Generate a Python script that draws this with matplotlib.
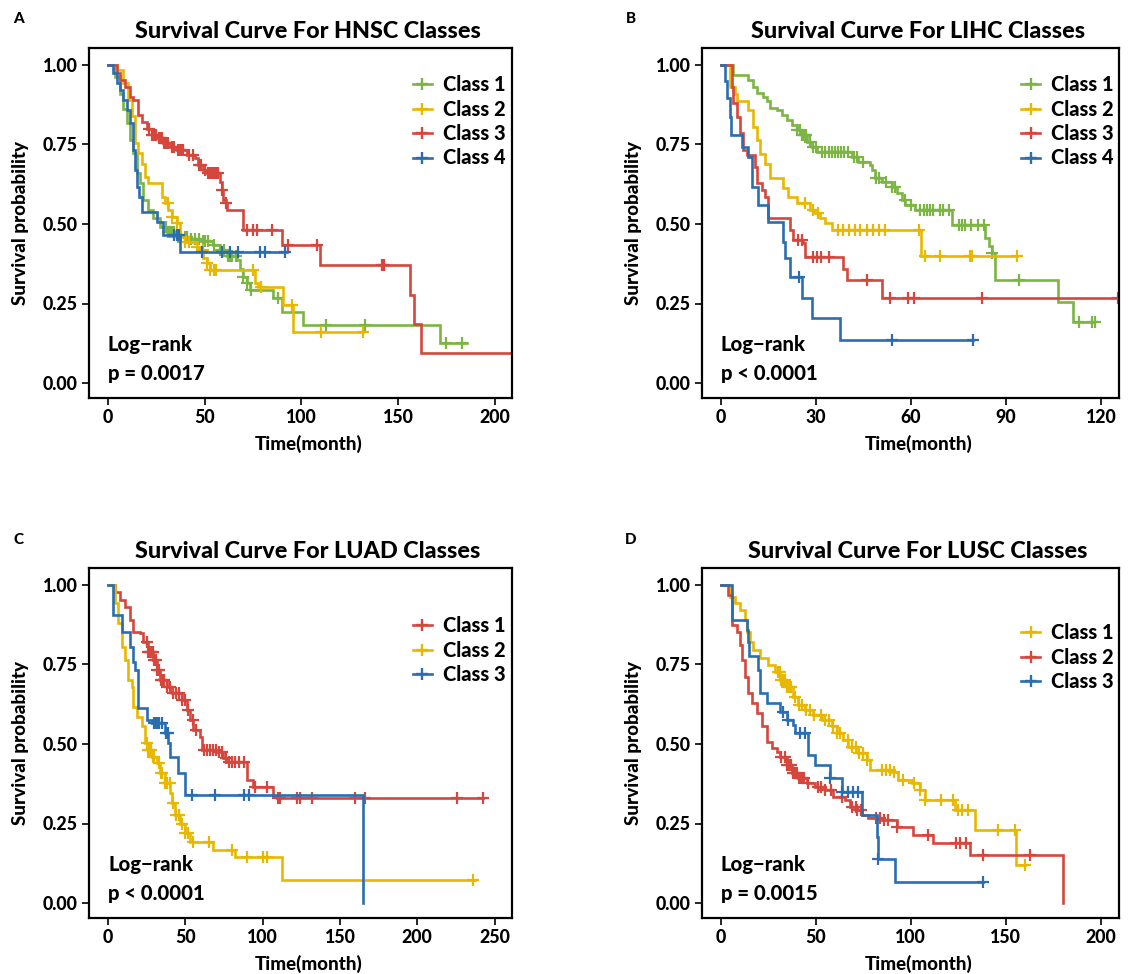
import numpy as np
import matplotlib.pyplot as plt
from matplotlib.lines import Line2D

plt.rcParams['font.family'] = ['Lato', 'DejaVu Sans']
plt.rcParams['font.weight'] = 'black'

GREEN = '#7CB544'
YELLOW = '#E8B800'
RED = '#D5463C'
BLUE = '#2A6DB0'
FW = 'black'

# ---- A: HNSC ----
hnsc_c1_t = [0, 3.6, 6.2, 8, 9.7, 11.4, 13.1, 14.8, 16.6, 18.3, 20.9, 23.4, 26.9, 30.3, 35.5, 42, 48,
             54.5, 58, 61.4, 66.5, 68.3, 70, 71.7, 73.4, 85.5, 90, 101, 171.7]
hnsc_c1_s = [1, 0.963, 0.91, 0.86, 0.817, 0.764, 0.722, 0.66, 0.628, 0.575, 0.544, 0.518, 0.49, 0.476, 0.46,
             0.452, 0.445, 0.434, 0.418, 0.40, 0.387, 0.36, 0.334, 0.313, 0.292, 0.266, 0.224, 0.182, 0.125]
hnsc_c1_end = 185.5
hnsc_c1_cens = [30, 31, 32, 33, 34, 36, 40, 41, 43, 45, 47, 49, 50, 52, 55, 58, 60, 62, 63, 64, 66,
                70, 72, 74, 88, 113, 133, 175, 183]

hnsc_c2_t = [0, 4.5, 8, 10.5, 12.2, 14, 15.7, 17.4, 19.1, 20.9, 27.8, 29.5, 31.2, 32.9, 35.5, 37.2, 39.8,
             45.9, 47.6, 49.3, 51, 52.8, 76, 77.8, 90.7, 95.9]
hnsc_c2_s = [1, 0.984, 0.942, 0.89, 0.838, 0.754, 0.722, 0.69, 0.649, 0.628, 0.586, 0.565, 0.544, 0.523,
             0.502, 0.46, 0.444, 0.429, 0.418, 0.392, 0.376, 0.355, 0.313, 0.303, 0.245, 0.161]
hnsc_c2_end = 132
hnsc_c2_cens = [31, 33, 35.5, 38, 40, 42, 46, 49, 51, 53, 55, 56, 75, 79, 95, 110, 132]

hnsc_c3_t = [0, 4.5, 6.2, 8.8, 11.4, 13.1, 15.7, 17.4, 20, 22.6, 26, 28.6, 32, 35.5, 40.7, 45, 46.7, 49.3,
             51, 58, 58.8, 59.7, 61, 61.4, 70, 89.8, 109.7, 156.2, 158.3, 161.7]
hnsc_c3_s = [1, 0.974, 0.953, 0.93, 0.90, 0.89, 0.843, 0.82, 0.80, 0.78, 0.77, 0.754, 0.743, 0.733, 0.717,
             0.707, 0.686, 0.67, 0.66, 0.633, 0.607, 0.575, 0.565, 0.544, 0.481, 0.434, 0.371, 0.277,
             0.186, 0.093]
hnsc_c3_end = 210
hnsc_c3_cens = [21, 23, 24, 25, 26.5, 27, 28, 29, 30, 31, 33, 34, 36, 37, 38, 39, 42, 44, 47, 48, 50, 52,
                53, 54, 55, 56, 57, 59, 61, 72, 75, 77, 85, 93, 108, 142, 143]

hnsc_c4_t = [0, 2.8, 4.5, 6.2, 8, 9.7, 11.4, 13.1, 14, 14.8, 16, 17.4, 25.2, 28.6, 37.2]
hnsc_c4_s = [1, 0.974, 0.942, 0.921, 0.89, 0.858, 0.817, 0.733, 0.67, 0.617, 0.586, 0.539, 0.507, 0.465,
             0.413]
hnsc_c4_end = 92.4
hnsc_c4_cens = [34, 35.5, 36.5, 48.5, 59, 63, 67.5, 78.5, 81, 91.5]

# ---- B: LIHC ----
lihc_c1_t = [0, 4, 8.7, 10.3, 11.3, 13.4, 14.5, 15.6, 17.7, 19.2, 20.8, 22.4, 24, 25.5, 27.1, 28.7, 30.3,
             41.3, 43.4, 47.1, 47.6, 48.7, 50.8, 53.9, 55.5, 57.1, 58.1, 61.3, 72.9, 83.5, 84.5, 85.5,
             86.5, 106.5, 111.2]
lihc_c1_s = [1, 0.968, 0.953, 0.932, 0.911, 0.90, 0.885, 0.864, 0.858, 0.843, 0.827, 0.811, 0.796, 0.78,
             0.759, 0.743, 0.727, 0.712, 0.696, 0.686, 0.67, 0.644, 0.633, 0.617, 0.596, 0.575, 0.56,
             0.544, 0.497, 0.455, 0.43, 0.41, 0.324, 0.256, 0.193]
lihc_c1_end = 117.5
lihc_c1_cens = [24, 25, 25.5, 26, 26.5, 27, 28, 29, 30, 32, 33, 34, 35, 36, 37, 38, 39, 40, 42, 43, 45,
                49, 50, 52, 54, 55, 58, 60, 63, 64, 65, 66, 67, 69, 70, 72, 75, 76, 77, 79, 81, 83,
                85.5, 94, 113, 117, 118]

lihc_c2_t = [0, 2.9, 4.5, 5, 8.7, 10.3, 11.3, 12.5, 14, 15.6, 19.8, 21.3, 24, 28.2, 29.7, 31.3, 32.9, 35,
             63.2]
lihc_c2_s = [1, 0.932, 0.91, 0.885, 0.858, 0.806, 0.764, 0.72, 0.69, 0.644, 0.612, 0.586, 0.565, 0.544,
             0.534, 0.518, 0.502, 0.481, 0.40]
lihc_c2_end = 93.4
lihc_c2_cens = [26.6, 29, 30.8, 37, 38.5, 40.5, 42.5, 44, 46, 48, 50, 51.7, 62.6, 64.4, 69, 78.7, 79.2,
                93.4]

lihc_c3_t = [0, 3.5, 4, 5, 6.1, 7.1, 8.2, 10.8, 11.3, 12.9, 14, 15, 21.9, 22.9, 26, 26.6, 38.7, 39.7,
             50.8]
lihc_c3_s = [1, 0.93, 0.88, 0.837, 0.785, 0.733, 0.717, 0.68, 0.628, 0.607, 0.586, 0.518, 0.48, 0.45,
             0.439, 0.397, 0.36, 0.324, 0.266]
lihc_c3_end = 125.4
lihc_c3_cens = [24.5, 25.5, 29, 30.5, 31.5, 34, 46, 53.5, 59, 61, 82.5, 125.4]

lihc_c4_t = [0, 1.5, 1.9, 2.9, 3.2, 6.6, 8.7, 9.8, 11.9, 15, 19.8, 20.3, 21.9, 25.5, 28.7, 37.6]
lihc_c4_s = [1, 0.95, 0.895, 0.837, 0.78, 0.743, 0.712, 0.617, 0.56, 0.507, 0.444, 0.392, 0.334, 0.266,
             0.203, 0.135]
lihc_c4_end = 79.7
lihc_c4_cens = [24.8, 54, 79.7]

# ---- C: LUAD ----
luad_c1_t = [0, 4.5, 7.8, 11, 14.2, 16.4, 20.7, 22.9, 26, 29.3, 31.5, 33.6, 37.9, 41.2, 47.6, 50.9, 53,
             55.2, 59.5, 60.6, 70.3, 74.6, 77.8, 89.7, 94, 107, 109.1]
luad_c1_s = [1, 0.979, 0.953, 0.932, 0.89, 0.853, 0.848, 0.82, 0.79, 0.764, 0.733, 0.70, 0.68, 0.66, 0.638,
             0.607, 0.575, 0.544, 0.523, 0.481, 0.476, 0.455, 0.444, 0.387, 0.366, 0.334, 0.329]
luad_c1_end = 242.8
luad_c1_cens = [25, 26, 27, 28, 29, 30, 31, 32, 33, 34, 35, 36, 38, 40, 42, 44, 46, 48, 50, 52, 55, 57,
                62, 64, 66, 68, 70, 72, 74, 76, 78, 80, 82, 85, 88, 95, 103, 110, 111, 122, 124, 131.7,
                159.8, 166, 225.5, 242.8]

luad_c2_t = [0, 4.5, 6.7, 8.8, 11, 13.2, 15.3, 16.4, 18.5, 21.8, 23.9, 26, 28.3, 31.5, 33.6, 36.9, 40.1,
             41.2, 43.3, 46.6, 49.8, 53, 68.1, 82, 112.3]
luad_c2_s = [1, 0.942, 0.88, 0.806, 0.764, 0.70, 0.68, 0.617, 0.586, 0.555, 0.502, 0.481, 0.46, 0.439,
             0.408, 0.376, 0.345, 0.313, 0.277, 0.25, 0.219, 0.193, 0.167, 0.146, 0.072]
luad_c2_end = 237.4
luad_c2_cens = [25, 26, 27, 28, 29, 30, 33, 34, 35, 37, 38, 40, 42, 44, 46, 48, 50, 52, 55, 65, 80,
                89.7, 100.5, 102.6, 236.3]

luad_c3_t = [0, 3, 8.8, 14.2, 16.4, 17.5, 19.6, 25, 28.3, 36.9, 39, 40.1, 45.5, 49.8, 165.2]
luad_c3_s = [1, 0.906, 0.853, 0.806, 0.759, 0.733, 0.612, 0.575, 0.565, 0.534, 0.502, 0.46, 0.408, 0.34,
             0.0]
luad_c3_end = 165.2
luad_c3_cens = [30, 31, 32, 33, 35, 37.5, 38.5, 54, 69, 88, 91]

# ---- D: LUSC ----
lusc_c1_t = [0, 4.9, 7.5, 10.2, 12.8, 13.7, 15.4, 17.2, 20.7, 25.1, 28.6, 31.2, 34.7, 38.2, 40.9, 44.4,
             48.7, 53.1, 58.4, 61, 64.5, 67.2, 72.4, 76.8, 78.6, 90, 93.5, 100.5, 104.9, 107.6, 123.3,
             133.8, 155.5]
lusc_c1_s = [1, 0.963, 0.942, 0.921, 0.89, 0.853, 0.822, 0.796, 0.77, 0.748, 0.727, 0.70, 0.68, 0.649,
             0.623, 0.607, 0.591, 0.575, 0.555, 0.534, 0.513, 0.492, 0.471, 0.45, 0.418, 0.413, 0.387,
             0.376, 0.355, 0.324, 0.292, 0.23, 0.12]
lusc_c1_end = 160
lusc_c1_cens = [30, 31, 32, 33, 34, 35, 36, 37, 39, 41, 43, 45, 47, 49, 53, 55, 57, 59, 61, 63, 67, 69,
                71, 73, 75, 77, 85, 87, 89, 91, 96, 102, 105, 107.6, 116, 122, 125, 127, 130, 146,
                155, 160]

lusc_c2_t = [0, 4, 5.8, 8.4, 10.2, 11, 12.8, 14.5, 16.3, 18.9, 21.6, 24.2, 26.8, 29.4, 31.2, 34.7, 37.4,
             40.9, 45.2, 49.6, 54.9, 59.3, 65.4, 68.1, 71.5, 74.2, 77.8, 84.7, 92.6, 101.4, 111.9,
             131.3, 180.3]
lusc_c2_s = [1, 0.969, 0.874, 0.853, 0.811, 0.764, 0.712, 0.66, 0.628, 0.596, 0.555, 0.507, 0.486, 0.476,
             0.46, 0.434, 0.408, 0.392, 0.376, 0.366, 0.355, 0.334, 0.324, 0.303, 0.292, 0.277, 0.266,
             0.261, 0.24, 0.214, 0.188, 0.151, 0.0]
lusc_c2_end = 180.3
lusc_c2_cens = [32, 34, 35, 36, 37, 38, 39, 40, 41, 42, 43, 44, 46, 51, 53, 55, 58, 64, 69, 71, 72, 74,
                82, 84, 86, 88, 92.6, 109, 124, 126, 129, 138, 163]

lusc_c3_t = [0, 5.8, 13.7, 14.5, 15, 19.8, 20.7, 24.2, 31.2, 34.7, 38.2, 39.1, 46.1, 49.6, 57.5, 63.7,
             74.2, 82.1, 83, 91.7]
lusc_c3_s = [1, 0.89, 0.858, 0.822, 0.775, 0.733, 0.66, 0.628, 0.602, 0.575, 0.56, 0.534, 0.465, 0.434,
             0.392, 0.35, 0.277, 0.209, 0.14, 0.067]
lusc_c3_end = 138
lusc_c3_cens = [33, 35.6, 42, 44.4, 57.5, 63.7, 67, 69.5, 72.4, 83, 138]


def km(ax, t, s, end, cens, color):
    tt = list(t) + [end]
    ss = list(s) + [s[-1]]
    ax.step(tt, ss, where='post', color=color, lw=1.9, solid_joinstyle='miter')
    idx = np.searchsorted(t, cens, side='right') - 1
    ax.plot(cens, np.array(s)[idx], ls='none', marker='+', ms=8, mew=1.6, color=color)


panels = [
    dict(letter='A', title='HNSC', pos=[89, 398, 423], xlim=(-9.8, 209), xt=np.arange(0, 201, 50),
         p='p = 0.0017', leg_y=0.922,
         curves=[(hnsc_c1_t, hnsc_c1_s, hnsc_c1_end, hnsc_c1_cens, GREEN, 'Class 1'),
                 (hnsc_c2_t, hnsc_c2_s, hnsc_c2_end, hnsc_c2_cens, YELLOW, 'Class 2'),
                 (hnsc_c3_t, hnsc_c3_s, hnsc_c3_end, hnsc_c3_cens, RED, 'Class 3'),
                 (hnsc_c4_t, hnsc_c4_s, hnsc_c4_end, hnsc_c4_cens, BLUE, 'Class 4')]),
    dict(letter='B', title='LIHC', pos=[702, 398, 417], xlim=(-5.9, 125.6), xt=np.arange(0, 121, 30),
         p='p < 0.0001', leg_y=0.922,
         curves=[(lihc_c1_t, lihc_c1_s, lihc_c1_end, lihc_c1_cens, GREEN, 'Class 1'),
                 (lihc_c2_t, lihc_c2_s, lihc_c2_end, lihc_c2_cens, YELLOW, 'Class 2'),
                 (lihc_c3_t, lihc_c3_s, lihc_c3_end, lihc_c3_cens, RED, 'Class 3'),
                 (lihc_c4_t, lihc_c4_s, lihc_c4_end, lihc_c4_cens, BLUE, 'Class 4')]),
    dict(letter='C', title='LUAD', pos=[89, 918, 423], xlim=(-12.3, 261.3), xt=np.arange(0, 251, 50),
         p='p < 0.0001', leg_y=0.862,
         curves=[(luad_c1_t, luad_c1_s, luad_c1_end, luad_c1_cens, RED, 'Class 1'),
                 (luad_c2_t, luad_c2_s, luad_c2_end, luad_c2_cens, YELLOW, 'Class 2'),
                 (luad_c3_t, luad_c3_s, luad_c3_end, luad_c3_cens, BLUE, 'Class 3')]),
    dict(letter='D', title='LUSC', pos=[702, 918, 417], xlim=(-9.8, 209.6), xt=np.arange(0, 201, 50),
         p='p = 0.0015', leg_y=0.842,
         curves=[(lusc_c1_t, lusc_c1_s, lusc_c1_end, lusc_c1_cens, YELLOW, 'Class 1'),
                 (lusc_c2_t, lusc_c2_s, lusc_c2_end, lusc_c2_cens, RED, 'Class 2'),
                 (lusc_c3_t, lusc_c3_s, lusc_c3_end, lusc_c3_cens, BLUE, 'Class 3')]),
]

W, H = 1131, 974
fig = plt.figure(figsize=(W / 100, H / 100), dpi=100)

for pn in panels:
    left, bottom, width = pn['pos']
    ax = fig.add_axes([left / W, (H - bottom) / H, width / W, 350 / H])
    handles = []
    for t, s, end, cens, color, label in pn['curves']:
        km(ax, t, s, end, cens, color)
        handles.append(Line2D([], [], color=color, lw=1.9, marker='+', ms=9, mew=1.7, label=label))
    ax.set_xlim(*pn['xlim'])
    ax.set_ylim(-0.047, 1.053)
    ax.set_xticks(pn['xt'])
    ax.set_yticks([0, 0.25, 0.5, 0.75, 1.0])
    ax.set_yticklabels(['0.00', '0.25', '0.50', '0.75', '1.00'])
    ax.tick_params(labelsize=12.8, length=5, width=1.2, pad=3, color='black')
    for lab in ax.get_xticklabels() + ax.get_yticklabels():
        lab.set_fontweight(FW)
    for sp in ax.spines.values():
        sp.set_linewidth(1.6)
    ax.set_xlabel('Time(month)', fontsize=13.5, fontweight=FW)
    ax.xaxis.set_label_coords(0.52, -0.105)
    ax.set_ylabel('Survival probability', fontsize=13.5, fontweight=FW)
    ax.yaxis.set_label_coords(-60 / width, 0.5)
    ax.set_title(f'Survival Curve For {pn["title"]} Classes', fontsize=16.8, fontweight=FW,
                 x=0.517, pad=7)
    ax.text(0, 0.12, 'Log\u2212rank', fontsize=14.6, fontweight=FW, va='center', ha='left')
    ax.text(0, 0.031, pn['p'], fontsize=14.6, fontweight=FW, va='center', ha='left')
    ax.legend(handles=handles, loc='upper left', bbox_to_anchor=(0.765, pn['leg_y']), frameon=False,
              prop=dict(size=14.4, weight=FW), handlelength=0.95, handletextpad=0.55,
              labelspacing=0.27, borderpad=0, borderaxespad=0)
    lx = 19 if pn['letter'] in 'AC' else 631
    ly = 19 if pn['letter'] in 'AB' else 540
    fig.text(lx / W, 1 - ly / H, pn['letter'], fontsize=11, fontweight=FW, ha='center', va='center')

fig.savefig('out.png', dpi=100)
